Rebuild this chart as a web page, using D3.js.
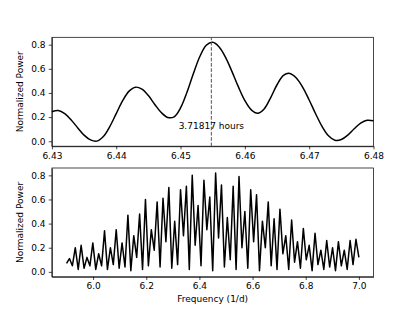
<!DOCTYPE html>
<html lang="en">

<head>
    <meta charset="UTF-8">
    <title>Periodogram</title>
    <style>
        body { margin: 0; background: #fff; }
        svg { display: block; }
        .axis text { font: 9px "DejaVu Sans", sans-serif; fill: #000; }
        .axis path, .axis line { fill: none; stroke: #000; stroke-width: 0.72px; }
        .label { font: 9px "DejaVu Sans", sans-serif; fill: #000; }
    </style>
</head>

<body>
    <div id="graph"></div>

    <script src="https://cdnjs.cloudflare.com/ajax/libs/d3/7.8.5/d3.min.js"></script>
    <script>
        // zoomed periodogram, sampled every 0.001 1/d from 6.430
        var zoomStart = 6.430, zoomStep = 0.001;
        var zoomPower = [
            0.245, 0.254, 0.228, 0.176, 0.112, 0.051, 0.011, 0.001, 0.039, 0.122,
            0.229, 0.336, 0.415, 0.448, 0.431, 0.378, 0.305, 0.238, 0.197, 0.202,
            0.276, 0.406, 0.561, 0.702, 0.795, 0.819, 0.781, 0.695, 0.577, 0.450,
            0.337, 0.260, 0.232, 0.268, 0.360, 0.468, 0.546, 0.562, 0.524, 0.447,
            0.342, 0.228, 0.123, 0.045, 0.008, 0.014, 0.051, 0.104, 0.151, 0.174,
            0.170
        ];
        var zoomTicks = [6.43, 6.44, 6.45, 6.46, 6.47, 6.48];

        // full periodogram, sampled every 0.011 1/d from 5.900
        var fullStart = 5.900, fullStep = 0.011;
        var fullPower = [
            0.07, 0.11, 0.05, 0.20, 0.02, 0.22, 0.03, 0.12, 0.05, 0.24,
            0.02, 0.15, 0.05, 0.34, 0.02, 0.20, 0.06, 0.35, 0.03, 0.24,
            0.04, 0.47, 0.01, 0.30, 0.12, 0.48, 0.02, 0.60, 0.05, 0.35,
            0.18, 0.58, 0.04, 0.61, 0.25, 0.70, 0.03, 0.42, 0.06, 0.68,
            0.30, 0.71, 0.02, 0.80, 0.22, 0.55, 0.05, 0.76, 0.35, 0.62,
            0.01, 0.82, 0.28, 0.72, 0.04, 0.45, 0.10, 0.71, 0.02, 0.79,
            0.20, 0.50, 0.03, 0.68, 0.25, 0.64, 0.01, 0.42, 0.20, 0.58,
            0.05, 0.44, 0.02, 0.52, 0.15, 0.30, 0.02, 0.43, 0.08, 0.25,
            0.03, 0.36, 0.10, 0.22, 0.01, 0.32, 0.06, 0.18, 0.02, 0.26,
            0.04, 0.20, 0.01, 0.25, 0.05, 0.18, 0.02, 0.26, 0.06, 0.27,
            0.12
        ];
        var fullTicks = [6.0, 6.2, 6.4, 6.6, 6.8, 7.0];

        var powerTicks = [0.0, 0.2, 0.4, 0.6, 0.8];
        var periodHours = 3.71817;

        var W = 415, H = 311;
        var left = 51.9, right = 373.5;
        var panels = [
            { top: 37.3, bottom: 146.2 },
            { top: 168.0, bottom: 276.8 }
        ];

        var svg = d3.select("#graph").append("svg")
            .attr("width", W)
            .attr("height", H);

        function drawPanel(p, xDomain, ticks, fmt, data, curve) {
            var x = d3.scaleLinear().domain(xDomain).range([left, right]);
            var y = d3.scaleLinear().domain([-0.041, 0.861]).range([p.bottom, p.top]);

            svg.append("g")
                .attr("class", "axis")
                .attr("transform", "translate(0," + p.bottom + ")")
                .call(d3.axisBottom(x).tickValues(ticks).tickFormat(d3.format(fmt))
                    .tickSizeInner(3.15).tickSizeOuter(0).tickPadding(3.15));

            svg.append("g")
                .attr("class", "axis")
                .attr("transform", "translate(" + left + ",0)")
                .call(d3.axisLeft(y).tickValues(powerTicks).tickFormat(d3.format(".1f"))
                    .tickSizeInner(3.15).tickSizeOuter(0).tickPadding(3.15));

            svg.append("text")
                .attr("class", "label")
                .attr("transform", "translate(23," + (p.top + p.bottom) / 2 + ") rotate(-90)")
                .attr("text-anchor", "middle")
                .text("Normalized Power");

            var line = d3.line()
                .curve(curve)
                .x(d => x(d.f))
                .y(d => y(d.v));

            svg.append("path")
                .datum(data)
                .attr("fill", "none")
                .attr("stroke", "#000")
                .attr("stroke-width", 1.5)
                .attr("stroke-linejoin", "round")
                .attr("d", line);

            // frame
            svg.append("rect")
                .attr("x", left).attr("y", p.top)
                .attr("width", right - left).attr("height", p.bottom - p.top)
                .attr("fill", "none")
                .attr("stroke", "#000")
                .attr("stroke-width", 0.72);

            return { x: x, y: y };
        }

        var zoomData = zoomPower.map((v, i) => ({ f: zoomStart + i * zoomStep, v: v }));
        var fullData = fullPower.map((v, i) => ({ f: fullStart + i * fullStep, v: v }));

        var s1 = drawPanel(panels[0], [6.43, 6.48], zoomTicks, ".2f", zoomData, d3.curveCatmullRom);
        var peakFreq = 24 / periodHours;

        svg.append("line")
            .attr("x1", s1.x(peakFreq)).attr("x2", s1.x(peakFreq))
            .attr("y1", panels[0].bottom).attr("y2", panels[0].top)
            .attr("stroke", "#555")
            .attr("stroke-width", 1)
            .attr("stroke-dasharray", "3.7,1.6");

        svg.append("text")
            .attr("class", "label")
            .attr("x", s1.x(peakFreq))
            .attr("y", s1.y(0.1))
            .attr("text-anchor", "middle")
            .text(periodHours + " hours");

        drawPanel(panels[1], [5.845, 7.055], fullTicks, ".1f", fullData, d3.curveLinear);

        svg.append("text")
            .attr("class", "label")
            .attr("x", (left + right) / 2)
            .attr("y", 302)
            .attr("text-anchor", "middle")
            .text("Frequency (1/d)");
    </script>
</body>

</html>
